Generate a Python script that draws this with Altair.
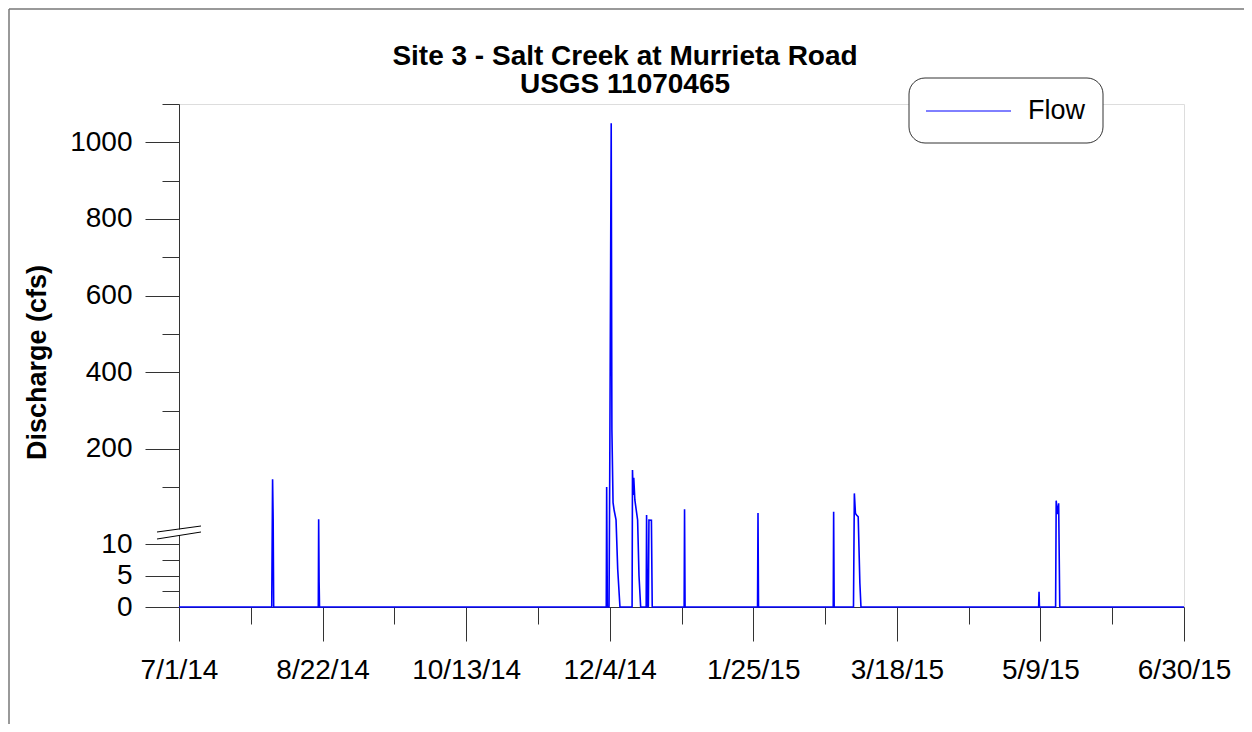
import altair as alt
import pandas as pd

TITLE_LINES = ["Site 3 - Salt Creek at Murrieta Road", "USGS 11070465"]
Y_TITLE = "Discharge (cfs)"
SERIES = "Flow"

DATES = [
    "2014-07-01T00:00",
    "2014-08-03T14:00", "2014-08-03T21:30", "2014-08-04T02:30", "2014-08-04T07:00",
    "2014-08-20T11:00", "2014-08-20T14:00", "2014-08-20T18:00", "2014-08-20T21:30",
    "2014-12-02T18:00", "2014-12-02T21:30", "2014-12-03T03:30", "2014-12-03T18:00",
    "2014-12-04T00:00", "2014-12-04T13:00", "2014-12-04T19:00", "2014-12-05T05:00",
    "2014-12-05T14:30", "2014-12-06T07:00", "2014-12-06T21:30", "2014-12-07T17:00",
    "2014-12-12T02:30", "2014-12-12T06:00", "2014-12-12T12:00", "2014-12-12T17:00",
    "2014-12-13T02:30", "2014-12-14T02:30", "2014-12-14T14:30", "2014-12-15T05:00",
    "2014-12-17T05:00", "2014-12-17T08:30", "2014-12-17T14:30", "2014-12-18T00:00",
    "2014-12-18T05:00", "2014-12-19T02:30", "2014-12-19T09:30",
    "2014-12-30T23:00", "2014-12-31T02:30", "2014-12-31T07:00",
    "2015-01-26T13:00", "2015-01-26T17:00", "2015-01-26T21:30",
    "2015-02-22T23:00", "2015-02-23T02:30", "2015-02-23T07:00",
    "2015-03-02T07:00", "2015-03-02T14:30", "2015-03-03T00:00", "2015-03-03T09:30",
    "2015-03-04T00:00", "2015-03-04T14:30", "2015-03-05T00:00",
    "2015-05-08T08:30", "2015-05-08T12:00", "2015-05-08T15:30",
    "2015-05-14T12:00", "2015-05-14T17:00", "2015-05-15T02:30", "2015-05-15T14:30",
    "2015-05-16T00:00",
    "2015-06-30T00:00",
]
FLOW = [
    0,
    0, 121, 18, 0,
    0, 16.4, 4, 0,
    0, 101, 0, 0,
    119, 1050, 250, 60,
    40, 15, 6, 0,
    0, 145, 80, 125,
    67, 14.6, 5, 0,
    0, 27.7, 0, 0,
    14.6, 14, 0,
    0, 42.5, 0,
    0, 33, 0,
    0, 36.4, 0,
    0, 84, 32, 27.7,
    23, 3.8, 0,
    0, 2.4, 0,
    0, 65, 30, 58,
    0,
    0,
]

X_MAJOR = ["2014-07-01", "2014-08-22", "2014-10-13", "2014-12-04",
           "2015-01-25", "2015-03-18", "2015-05-09", "2015-06-30"]
X_MINOR = ["2014-07-27", "2014-09-17", "2014-11-08", "2014-12-30",
           "2015-02-20", "2015-04-13", "2015-06-04"]
Y_MAJOR = [0, 5, 10, 200, 400, 600, 800, 1000]
Y_MINOR = [2.5, 7.5, 100, 300, 500, 700, 900, 1100]
Y_BREAK_DOMAIN = [0, 10, 12, 1100]

FONT = "Liberation Sans"
W, H = 1005, 503
AXIS_COLOR = "#333333"
LINE_COLOR = "#0000ff"


def dt(s):
    y, m, d = (int(p) for p in s.split("-"))
    return alt.DateTime(year=y, month=m, date=d)


df = pd.DataFrame({
    "date": [d + ":00" for d in DATES],
    "flow": FLOW,
    "series": SERIES,
})

xscale = alt.Scale(domain=[dt(X_MAJOR[0]), dt(X_MAJOR[-1])], nice=False)
yscale = alt.Scale(domain=Y_BREAK_DOMAIN, range=[503, 440, 417, 0], nice=False, zero=False)

line = alt.Chart(df).mark_line(strokeWidth=1.6).encode(
    x=alt.X("date:T", scale=xscale, axis=alt.Axis(
        orient="bottom", values=[dt(v) for v in X_MAJOR], format="%-m/%-d/%y",
        title=None, grid=False, tickSize=34, labelPadding=15, labelFontSize=28,
        labelFont=FONT, labelColor="black", labelFlush=False, labelOverlap=False,
        domainColor=AXIS_COLOR, tickColor=AXIS_COLOR, zindex=0)),
    y=alt.Y("flow:Q", scale=yscale, axis=alt.Axis(
        orient="left", values=Y_MAJOR, format="d", title=Y_TITLE, grid=False,
        tickSize=34, labelPadding=13, labelFontSize=28, labelFont=FONT,
        labelColor="black", labelOverlap=False, labelFlush=False,
        titleFont=FONT, titleFontSize=27, titleFontWeight="bold", titleColor="black",
        titleX=-142, titleY=258, titleAngle=270, titleAlign="center",
        titleBaseline="middle",
        domainColor=AXIS_COLOR, tickColor=AXIS_COLOR, zindex=0)),
    color=alt.Color("series:N", scale=alt.Scale(domain=[SERIES], range=[LINE_COLOR]),
                    legend=None),
)

minor = alt.Chart(df).mark_line(opacity=0).encode(
    x=alt.X("date:T", scale=xscale, axis=alt.Axis(
        orient="bottom", values=[dt(v) for v in X_MINOR], labels=False, title=None,
        grid=False, domain=False, tickSize=17, tickColor=AXIS_COLOR, zindex=0)),
    y=alt.Y("flow:Q", scale=yscale, axis=alt.Axis(
        orient="left", values=Y_MINOR, labels=False, title=None, grid=False,
        domain=False, tickSize=17, tickColor=AXIS_COLOR, zindex=0)),
)

one = alt.Data(values=[{}])

gap = alt.Chart(one).mark_rule(color="white", strokeWidth=4).encode(
    x=alt.value(0), y=alt.value(425.5), y2=alt.value(431))
brk1 = alt.Chart(one).mark_rule(color="black", strokeWidth=1).encode(
    x=alt.value(-22), y=alt.value(428), x2=alt.value(22), y2=alt.value(422))
brk2 = alt.Chart(one).mark_rule(color="black", strokeWidth=1).encode(
    x=alt.value(-22), y=alt.value(435), x2=alt.value(22), y2=alt.value(428))

frame_top = alt.Chart(one).mark_rule(color="#777777", strokeWidth=1.5).encode(
    x=alt.value(-170), x2=alt.value(1065), y=alt.value(-95))
frame_left = alt.Chart(one).mark_rule(color="#777777", strokeWidth=1.5).encode(
    x=alt.value(-170), y=alt.value(-95), y2=alt.value(620))

title1 = alt.Chart(alt.Data(values=[{"t": TITLE_LINES[0]}])).mark_text(
    font=FONT, fontSize=28, fontWeight="bold", color="black", align="center",
    baseline="alphabetic").encode(text="t:N", x=alt.value(446), y=alt.value(-39))
title2 = alt.Chart(alt.Data(values=[{"t": TITLE_LINES[1]}])).mark_text(
    font=FONT, fontSize=28, fontWeight="bold", color="black", align="center",
    baseline="alphabetic").encode(text="t:N", x=alt.value(446), y=alt.value(-11))

# legend box (drawn as marks)
leg_box = alt.Chart(one).mark_rect(
    fill="white", stroke=AXIS_COLOR, strokeWidth=1, cornerRadius=16).encode(
    x=alt.value(730), x2=alt.value(924), y=alt.value(-26), y2=alt.value(39))
leg_line = alt.Chart(one).mark_rule(color=LINE_COLOR, strokeWidth=1).encode(
    x=alt.value(747), x2=alt.value(832), y=alt.value(7))
leg_text = alt.Chart(alt.Data(values=[{"t": SERIES}])).mark_text(
    font=FONT, fontSize=27, color="black", align="left", baseline="middle").encode(
    text="t:N", x=alt.value(849), y=alt.value(7))

chart = alt.layer(
    minor, line, gap, brk1, brk2, frame_top, frame_left, title1, title2,
    leg_box, leg_line, leg_text
).resolve_axis(x="independent", y="independent").properties(
    width=W, height=H,
    padding={"left": 171, "top": 96, "right": 60, "bottom": 117},
    autosize=alt.AutoSizeParams(type="none"),
).configure_view(stroke=None).configure(background="white")

chart.save("out.html", embed_options={"renderer": "svg", "actions": False})
